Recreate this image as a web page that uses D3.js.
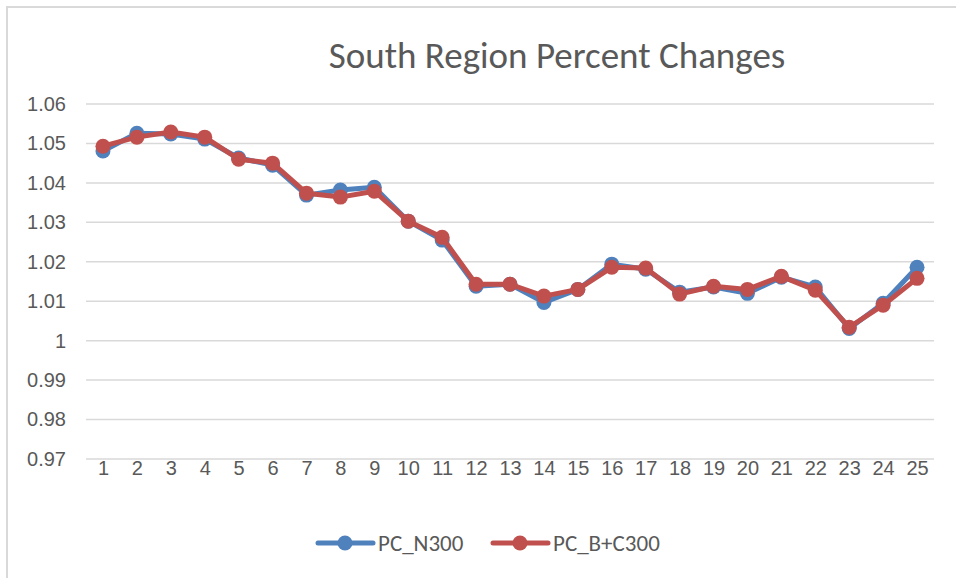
<!DOCTYPE html>
<html>
<head>
<meta charset="utf-8">
<script src="https://cdn.jsdelivr.net/npm/d3@7"></script>
<style>
  body { margin: 0; background: #fff; }
  svg { display: block; font-family: Carlito, Lato, "Open Sans", sans-serif; }
</style>
</head>
<body>
<div id="chart"></div>
<script>
const categories = d3.range(1, 26).map(String);
const yTicks = [0.97, 0.98, 0.99, 1, 1.01, 1.02, 1.03, 1.04, 1.05, 1.06];

const pcN300 = [1.0481, 1.0526, 1.0524, 1.0511, 1.0463, 1.0445, 1.0369, 1.0382, 1.0389, 1.0303,
  1.0255, 1.0138, 1.0143, 1.0097, 1.0130, 1.0194, 1.0181, 1.0123, 1.0136, 1.0120,
  1.0161, 1.0136, 1.0031, 1.0095, 1.0186];
const pcBC300 = [1.0493, 1.0516, 1.0529, 1.0516, 1.0460, 1.0450, 1.0374, 1.0364, 1.0379, 1.0303,
  1.0262, 1.0143, 1.0143, 1.0113, 1.0130, 1.0186, 1.0184, 1.0118, 1.0138, 1.0130,
  1.0163, 1.0128, 1.0034, 1.0090, 1.0158];

const series = [
  { name: "PC_N300", values: pcN300, color: "#4F81BD" },
  { name: "PC_B+C300", values: pcBC300, color: "#C0504D" }
];

const width = 956, height = 578;
const plot = { left: 86, right: 934, top: 104, bottom: 459 };

const svg = d3.select("#chart").append("svg")
  .attr("width", width)
  .attr("height", height);

// chart area border (only left/top are inside the picture)
svg.append("rect")
  .attr("x", 7).attr("y", 7)
  .attr("width", 1000).attr("height", 1000)
  .attr("fill", "none")
  .attr("stroke", "#d9d9d9")
  .attr("stroke-width", 2);

const x = d3.scalePoint().domain(categories).range([plot.left, plot.right]).padding(0.5);
const y = d3.scaleLinear().domain([0.97, 1.06]).range([plot.bottom, plot.top]);

// gridlines
svg.append("g")
  .selectAll("line")
  .data(yTicks)
  .join("line")
  .attr("x1", plot.left).attr("x2", plot.right)
  .attr("y1", d => y(d)).attr("y2", d => y(d))
  .attr("stroke", "#d9d9d9")
  .attr("stroke-width", 1.5);

const yAxis = svg.append("g")
  .attr("transform", `translate(${plot.left},0)`)
  .call(d3.axisLeft(y).tickValues(yTicks).tickSize(0).tickPadding(20).tickFormat(d => String(+d.toFixed(2))));
yAxis.select(".domain").remove();
yAxis.selectAll("text").attr("fill", "#595959").attr("font-size", 20);

const xAxis = svg.append("g")
  .attr("transform", `translate(0,${plot.bottom})`)
  .call(d3.axisBottom(x).tickSize(0).tickPadding(2));
xAxis.select(".domain").remove();
xAxis.selectAll("text").attr("fill", "#595959").attr("font-size", 20);

svg.append("text")
  .attr("x", 557).attr("y", 68)
  .attr("text-anchor", "middle")
  .attr("fill", "#595959")
  .attr("font-size", 37)
  .text("South Region Percent Changes");

const line = d3.line()
  .x((d, i) => x(categories[i]))
  .y(d => y(d));

const g = svg.append("g")
  .selectAll("g")
  .data(series)
  .join("g");

g.append("path")
  .attr("d", d => line(d.values))
  .attr("fill", "none")
  .attr("stroke", d => d.color)
  .attr("stroke-width", 5)
  .attr("stroke-linejoin", "round")
  .attr("stroke-linecap", "round");

g.selectAll("circle")
  .data(d => d.values.map((v, i) => ({ v, i, color: d.color })))
  .join("circle")
  .attr("cx", d => x(categories[d.i]))
  .attr("cy", d => y(d.v))
  .attr("r", 7.5)
  .attr("fill", d => d.color);

// legend
const legendX = [318, 493];
const legend = svg.append("g")
  .selectAll("g")
  .data(series)
  .join("g")
  .attr("transform", (d, i) => `translate(${legendX[i]},543)`);

legend.append("line")
  .attr("x1", 0).attr("x2", 55)
  .attr("stroke", d => d.color)
  .attr("stroke-width", 5)
  .attr("stroke-linecap", "round");
legend.append("circle")
  .attr("cx", 27).attr("r", 7.5)
  .attr("fill", d => d.color);
legend.append("text")
  .attr("x", 60).attr("y", 8)
  .attr("fill", "#595959")
  .attr("font-size", 23)
  .text(d => d.name);
</script>
</body>
</html>
